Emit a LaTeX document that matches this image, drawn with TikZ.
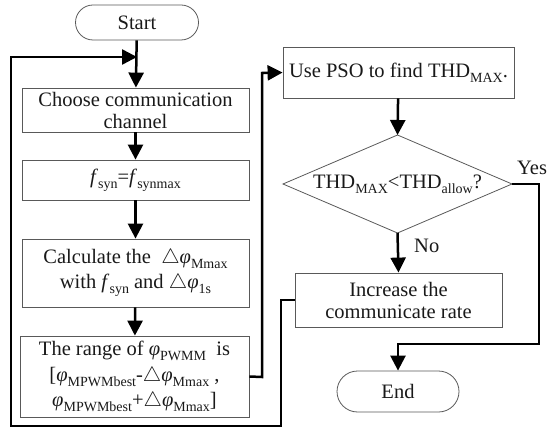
\documentclass[tikz,border=0pt]{standalone}
\usepackage{fontspec}
\setmainfont{Liberation Serif}
\usetikzlibrary{arrows.meta,shapes.misc}
\newcommand\sbs[1]{\raisebox{-0.24em}{\fontsize{14}{14}\selectfont #1}}
\newcommand\phig{\textit{φ}}
\newcommand\tri{$\triangle$}
\begin{document}
\begin{tikzpicture}[x=1pt,y=-1pt,
  txt/.style={font=\fontsize{20.5}{25}\selectfont, text=black!90},
  outline/.style={draw=black!65, line width=0.8pt},
  box/.style={txt, outline, inner sep=0pt, align=center},
  term/.style={box, rounded rectangle},
  flow/.style={line width=2.5pt, -{Triangle[length=15pt,width=15pt]}},
  wire/.style={line width=2.5pt}
]
\useasboundingbox (0,0) rectangle (548,430);

\node[term, minimum width=123pt, minimum height=35pt] (start) at (137,22.5) {Start};
\node[box, minimum width=227pt, minimum height=44pt] (choose) at (135.5,110) {Choose communication\\[-3pt]channel};
\node[box, minimum width=227pt, minimum height=40pt] (fsyn) at (135.5,180) {\textit{f}\sbs{syn}=\textit{f}\sbs{synmax}};
\node[box, minimum width=227pt, minimum height=68pt] (calc) at (135.5,273) {Calculate the \ \tri\phig\sbs{Mmax}\\with \textit{f}\sbs{syn} and \tri\phig\sbs{1s}};
\node[box, minimum width=229pt, minimum height=81pt] (range) at (134.5,376.5) {The range of \phig\sbs{PWMM}\ \ is\\[1pt][\phig\sbs{MPWMbest}-\tri\phig\sbs{Mmax} ,\\[0pt]\phig\sbs{MPWMbest}+\tri\phig\sbs{Mmax}]};
\node[box, minimum width=231pt, minimum height=51pt] (pso) at (398.5,72.5) {Use PSO to find THD\sbs{MAX}.};
\coordinate (dt) at (397.5,135);
\coordinate (db) at (397.5,233);
\coordinate (dl) at (283,184);
\coordinate (dr) at (512,184);
\draw[outline] (dl) -- (dt) -- (dr) -- (db) -- cycle;
\node[txt] (dec) at (397.5,184) {THD\sbs{MAX}<THD\sbs{allow}?};
\node[box, minimum width=207pt, minimum height=54pt] (inc) at (398.5,300) {Increase the\\[-3pt]communicate rate};
\node[term, minimum width=122pt, minimum height=41pt] (end) at (398,391.5) {End};

\node[txt, anchor=west, inner sep=0pt] (yes) at (517,168) {Yes};
\node[txt, anchor=west, inner sep=0pt] (no) at (414,246) {No};

\coordinate (j) at (137,57);
\draw[flow] (start) -- (choose);
\draw[flow] (choose) -- (fsyn);
\draw[flow] (fsyn) -- (calc);
\draw[flow] (calc) -- (range);
\draw[flow] (range.east) -- (262,377) -- (262,73) -- (pso.west);
\draw[flow] (pso) -- (dt);
\draw[flow] (db) -- (inc.north);
\draw[flow] (dr) -- (539,184) -- (539,344) -- (398,344) -- (end.north);
\draw[flow] (inc.west) -- (281,300) -- (281,426) -- (11,426) -- (11,57) -- (j);
\end{tikzpicture}
\end{document}
